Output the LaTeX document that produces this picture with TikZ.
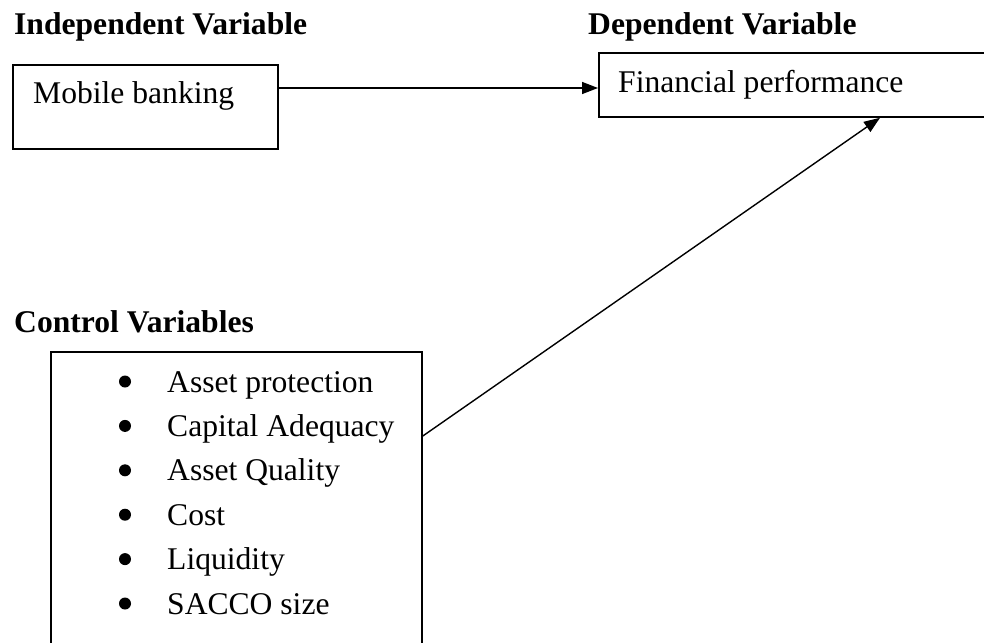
\documentclass[tikz,border=0pt]{standalone}
\usepackage{fontspec}
\setmainfont{Liberation Serif}
\usetikzlibrary{arrows.meta,calc}

\newcommand{\boxfont}{\fontsize{31.6}{38}\selectfont}
\tikzset{
  varbox/.style={draw, line width=1.8pt, anchor=north west, inner sep=0pt},
  heading/.style={anchor=base west, inner sep=0pt, font=\boxfont\bfseries},
  label/.style={anchor=base west, inner sep=0pt, font=\boxfont},
  link/.style={line width=1.4pt, -{Triangle[length=16pt,width=12pt]}}
}

\begin{document}
\begin{tikzpicture}[x=1pt, y=-1pt]
    \clip (0,0) rectangle (984,642);
    \node[heading] (indep) at (14,35) {Independent Variable};
    \node[heading] (dep) at (588,35) {Dependent Variable};
    \node[heading] (contr) at (14,332) {Control Variables};
    \node[varbox, minimum width=265pt, minimum height=84pt] (mob) at (12,64) {};
    \node[label] (mobtext) at (33,103) {Mobile banking};
    \node[varbox, minimum width=420pt, minimum height=64pt] (fin) at (598,52) {};
    \node[label] (fintext) at (618,92) {Financial performance};
    \node[varbox, minimum width=371pt, minimum height=320pt] (ctrl) at (50,351) {};
    \foreach \item [count=\i] in {Asset protection, Capital Adequacy, Asset Quality, Cost, Liquidity, SACCO size} {
      \fill (125, 381.5 + 44.4*\i - 44.4) circle (6pt) coordinate (dot\i);
      \node[label] (item\i) at (167, 392 + 44.4*\i - 44.4) {\item};
    }
    \coordinate (ctrlout) at ($(ctrl.north east) + (0,85)$);
    \coordinate (finin) at ($(fin.south west) + (282,0)$);
    \draw[link] (mob.east |- 0,88) -- (fin.west |- 0,88);
    \draw[link] (ctrlout) -- (finin);
\end{tikzpicture}
\end{document}
